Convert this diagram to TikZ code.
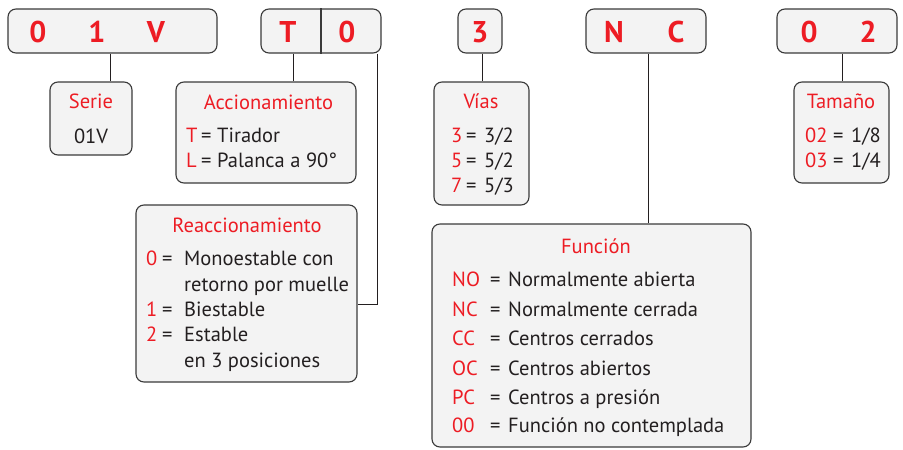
\documentclass[tikz,border=0pt]{standalone}
\usepackage{fontspec}
\setmainfont{PT Sans}
\definecolor{myred}{HTML}{ED1C24}
\definecolor{mytext}{HTML}{231F20}
\definecolor{boxfill}{HTML}{F3F3F3}
\definecolor{boxline}{HTML}{3A3A3A}
\newcommand{\rowent}[8]{%
  \node[codetxt] (#1c) at (#2,#5) {#6};
  \node[bodytxt] (#1e) at (#3,#5) {=};
  \node[bodytxt] (#1t) at (#4,#5) {#7#8};
}
\begin{document}
\begin{tikzpicture}[x=1pt,y=-1pt,
  box/.style={draw=boxline, fill=boxfill, rounded corners=8pt, line width=1.1pt, inner sep=0pt},
  big/.style={text=myred, font=\fontsize{30}{32}\selectfont\bfseries, inner sep=0pt, anchor=base},
  ttl/.style={text=myred, font=\fontsize{20.5}{22}\selectfont, inner sep=0pt, anchor=base},
  codetxt/.style={text=myred, font=\fontsize{20.5}{22}\selectfont, inner sep=0pt, anchor=base west},
  bodytxt/.style={text=mytext, font=\fontsize{20.5}{22}\selectfont, inner sep=0pt, anchor=base west},
  conn/.style={draw=mytext, line width=1pt}]
\useasboundingbox (0,0) rectangle (903,450);
% top boxes
\node[box, minimum width=209pt, minimum height=44pt] (b01V) at (112.5,31) {};
\node[box, minimum width=120pt, minimum height=44pt] (bT0) at (321,31) {};
\node[box, minimum width=44pt, minimum height=44pt] (b3) at (480,31) {};
\node[box, minimum width=120pt, minimum height=44pt] (bNC) at (646,31) {};
\node[box, minimum width=120pt, minimum height=44pt] (b02) at (837,31) {};
\coordinate (dv) at (321,0);
\draw[boxline, line width=1.1pt] (bT0.north -| dv) -- (bT0.south -| dv);
\node[big] (l0) at (38,42) {0};
\node[big] (l1) at (97,42) {1};
\node[big] (lV) at (156,42) {V};
\node[big] (lT) at (288,42) {T};
\node[big] (lT0) at (347,42) {0};
\node[big] (l3) at (480,42) {3};
\node[big] (lN) at (614,42) {N};
\node[big] (lC) at (676,42) {C};
\node[big] (l02a) at (809,42) {0};
\node[big] (l02b) at (868,42) {2};
% detail boxes
\node[box, minimum width=82pt, minimum height=73pt] (serie) at (91,118.5) {};
\node[box, minimum width=180pt, minimum height=101pt] (accion) at (266,132.5) {};
\node[box, minimum width=221pt, minimum height=177pt] (reacc) at (246.5,293.5) {};
\node[box, minimum width=95pt, minimum height=123pt] (vias) at (481.5,143.5) {};
\node[box, minimum width=95pt, minimum height=101pt] (tam) at (841.5,132.5) {};
\node[box, minimum width=319pt, minimum height=223pt] (func) at (591.5,335.5) {};
% connectors
\coordinate (k1) at (110,0);
\coordinate (k2) at (293,0);
\coordinate (k3) at (377,304);
\coordinate (k4) at (482,0);
\coordinate (k5) at (648,0);
\coordinate (k6) at (842,0);
\draw[conn] (b01V.south -| k1) -- (serie.north -| k1);
\draw[conn] (bT0.south -| k2) -- (accion.north -| k2);
\draw[conn] (bT0.south -| k3) -- (k3) -- (reacc.east |- k3);
\draw[conn] (b3.south -| k4) -- (vias.north -| k4);
\draw[conn] (bNC.south -| k5) -- (func.north -| k5);
\draw[conn] (b02.south -| k6) -- (tam.north -| k6);
% Serie
\node[ttl] (serieT) at (91,108) {Serie};
\node[bodytxt, anchor=base] (serieV) at (91,143) {01V};
% Accionamiento
\node[ttl] (accT) at (268.5,109) {Accionamiento};
\rowent{accA}{186}{201}{217}{142}{T}{Tirador}{}
\rowent{accB}{186}{201}{217}{167}{L}{Palanca a 90°}{}
% Reaccionamiento
\node[ttl] (reaT) at (247,232) {Reaccionamiento};
\rowent{reaA}{146}{162}{184}{265}{0}{Monoestable con}{}
\node[bodytxt] (reaA2) at (184,291) {retorno por muelle};
\rowent{reaB}{146}{162}{184}{316}{1}{Biestable}{}
\rowent{reaC}{146}{162}{184}{341}{2}{Estable}{}
\node[bodytxt] (reaC2) at (184,367) {en 3 posiciones};
% Vias
\node[ttl] (viaT) at (481,108) {Vías};
\rowent{viaA}{451}{466}{484}{142}{3}{3/2}{}
\rowent{viaB}{451}{466}{484}{167}{5}{5/2}{}
\rowent{viaC}{451}{466}{484}{192}{7}{5/3}{}
% Tamano
\node[ttl] (tamT) at (841,108) {Tamaño};
\rowent{tamA}{805}{833}{851}{142}{02}{1/8}{}
\rowent{tamB}{805}{833}{851}{167}{03}{1/4}{}
% Funcion
\node[ttl] (funT) at (596,253) {Función};
\rowent{funA}{452}{490}{508}{286}{NO}{Normalmente abierta}{}
\rowent{funB}{452}{490}{508}{316}{NC}{Normalmente cerrada}{}
\rowent{funC}{452}{490}{508}{345}{CC}{Centros cerrados}{}
\rowent{funD}{452}{490}{508}{375}{OC}{Centros abiertos}{}
\rowent{funE}{452}{490}{508}{404}{PC}{Centros a presión}{}
\rowent{funF}{452}{490}{508}{432}{00}{Función no contemplada}{}
\end{tikzpicture}
\end{document}
